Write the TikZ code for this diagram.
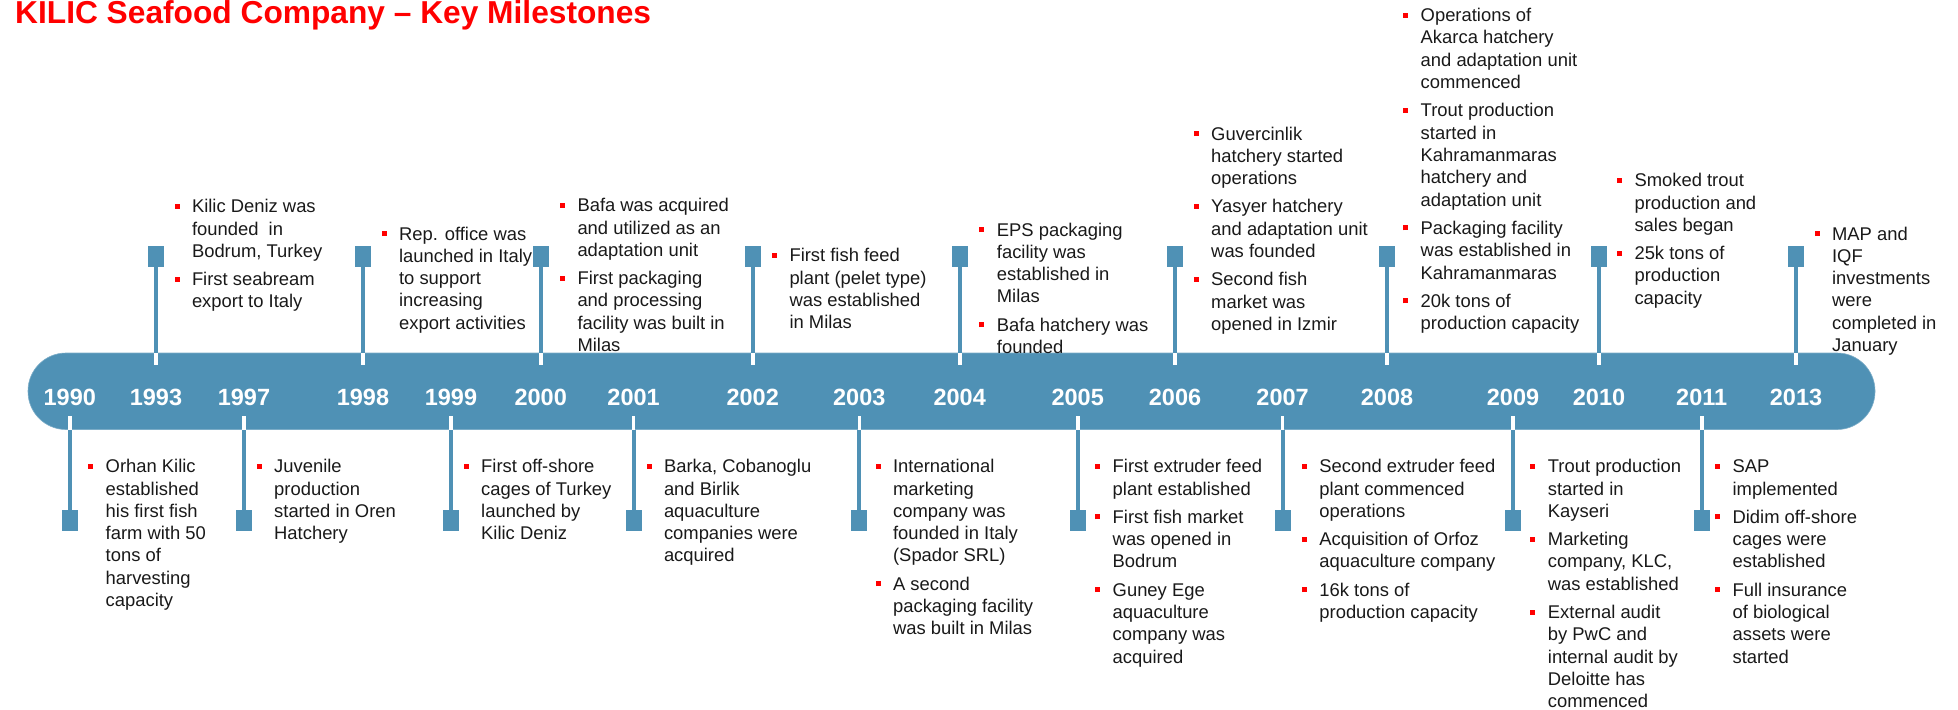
\documentclass[tikz,border=0pt]{standalone}
\usepackage{fontspec}
\setmainfont{Liberation Sans}
\usepackage{xcolor}
\definecolor{bandblue}{RGB}{79,145,181}
\definecolor{bulletred}{RGB}{255,0,0}
\usepackage{tikz}
\usetikzlibrary{calc,positioning}
% bullet square and one bullet block
\newcommand{\bul}{\llap{\textcolor{bulletred}{\rule[4pt]{5pt}{5pt}}\hspace{12.5pt}}}
\newcommand{\evt}[1]{\begin{tabular}[t]{@{}l@{}}#1\end{tabular}}

\begin{document}
\begin{tikzpicture}[x=1pt,y=-1pt,
    band/.style={fill=bandblue,draw=bandblue!75!white,line width=0.6pt,rounded corners=38pt,
      minimum width=1847pt,minimum height=76.5pt,inner sep=0pt,outer sep=0pt},
    marker/.style={fill=bandblue,minimum width=16pt,minimum height=21pt,inner sep=0pt,outer sep=0pt},
    stem/.style={draw=bandblue,line width=4.2pt},
    tick/.style={draw=white,line width=3.6pt},
    year/.style={anchor=base,text=white,font=\fontsize{23.5}{28}\selectfont\bfseries},
    txt/.style={anchor=base west,inner sep=0pt,text=black!90,font=\fontsize{18.4}{22.3}\selectfont},
    title/.style={anchor=base west,inner sep=0pt,text=bulletred,font=\fontsize{31.7}{36}\selectfont\bfseries}]
            % Canvas
            \useasboundingbox (0,0) rectangle (1958,709);
            % Parameters
            \def\uy{256.2}  % upper markers
            \def\ly{520.9}  % lower markers
            \def\yb{405}    % year baseline
            % Title
            \node[title] (title) at (15,23.5) {KILIC Seafood Company – Key Milestones};
            % Time band
            \node[band] (band) at (951.5,391.25) {};
            % Upper markers
            \foreach \px/\yr in {156/1993,363/1998,540.7/2000,752.7/2002,959.7/2004,1175/2006,1387/2008,1599/2010,1796/2013} {
              \node[marker] (m\yr) at (\px,\uy) {};
              \draw[stem] (m\yr.south) -- (m\yr.south |- band.north);
              \draw[tick] (m\yr.south |- band.north) -- ++(0,12);
              \node[year] (y\yr) at (\px,\yb) {\yr};
            }
            % Lower markers
            \foreach \px/\yr in {69.8/1990,244/1997,451/1999,633.6/2001,859.3/2003,1077.7/2005,1282.6/2007,1513/2009,1701.7/2011} {
              \node[marker] (m\yr) at (\px,\ly) {};
              \draw[stem] (m\yr.north) -- (m\yr.north |- band.south);
              \draw[tick] (m\yr.north |- band.south) -- ++(0,-14);
              \node[year] (y\yr) at (\px,\yb) {\yr};
            }
            % Upper milestones
            \node[txt] (t1993) at (191.8,212.7) {\evt{\bul Kilic Deniz was\\ founded~ in\\ Bodrum, Turkey\\[6pt]
              \bul First seabream\\ export to Italy}};
            \node[txt] (t1998) at (398.9,240) {\evt{\bul Rep. office was\\ launched in Italy\\ to support\\ increasing\\ export activities}};
            \node[txt] (t2000) at (577.3,211.7) {\evt{\bul Bafa was acquired\\ and utilized as an\\ adaptation unit\\[6pt]
              \bul First packaging\\ and processing\\ facility was built in\\ Milas}};
            \node[txt] (t2002) at (789.3,261.7) {\evt{\bul First fish feed\\ plant (pelet type)\\ was established\\ in Milas}};
            \node[txt] (t2004) at (996.7,236) {\evt{\bul EPS packaging\\ facility was\\ established in\\ Milas\\[6pt]
              \bul Bafa hatchery was\\ founded}};
            \node[txt] (t2006) at (1211,140) {\evt{\bul Guvercinlik\\ hatchery started\\ operations\\[6pt]
              \bul Yasyer hatchery\\ and adaptation unit\\ was founded\\[6pt]
              \bul Second fish\\ market was\\ opened in Izmir}};
            \node[txt] (t2008) at (1420.5,21.7) {\evt{\bul Operations of\\ Akarca hatchery\\ and adaptation unit\\ commenced\\[6pt]
              \bul Trout production\\ started in\\ Kahramanmaras\\ hatchery and\\ adaptation unit\\[6pt]
              \bul Packaging facility\\ was established in\\ Kahramanmaras\\[6pt]
              \bul 20k tons of\\ production capacity}};
            \node[txt] (t2010) at (1634.3,186.7) {\evt{\bul Smoked trout\\ production and\\ sales began\\[6pt]
              \bul 25k tons of\\ production\\ capacity}};
            \node[txt] (t2013) at (1831.9,240) {\evt{\bul MAP and\\ IQF\\ investments\\ were\\ completed in\\ January}};
            % Lower milestones
            \node[txt] (t1990) at (105.5,472.7) {\evt{\bul Orhan Kilic\\ established\\ his first fish\\ farm with 50\\ tons of\\ harvesting\\ capacity}};
            \node[txt] (t1997) at (274,472.7) {\evt{\bul Juvenile\\ production\\ started in Oren\\ Hatchery}};
            \node[txt] (t1999) at (481,472.7) {\evt{\bul First off-shore\\ cages of Turkey\\ launched by\\ Kilic Deniz}};
            \node[txt] (t2001) at (663.8,472.7) {\evt{\bul Barka, Cobanoglu\\ and Birlik\\ aquaculture\\ companies were\\ acquired}};
            \node[txt] (t2003) at (892.9,472.7) {\evt{\bul International\\ marketing\\ company was\\ founded in Italy\\ (Spador SRL)\\[6pt]
              \bul A second\\ packaging facility\\ was built in Milas}};
            \node[txt] (t2005) at (1112.5,472.7) {\evt{\bul First extruder feed\\ plant established\\[6pt]
              \bul First fish market\\ was opened in\\ Bodrum\\[6pt]
              \bul Guney Ege\\ aquaculture\\ company was\\ acquired}};
            \node[txt] (t2007) at (1319.2,472.7) {\evt{\bul Second extruder feed\\ plant commenced\\ operations\\[6pt]
              \bul Acquisition of Orfoz\\ aquaculture company\\[6pt]
              \bul 16k tons of\\ production capacity}};
            \node[txt] (t2009) at (1547.7,472.7) {\evt{\bul Trout production\\ started in\\ Kayseri\\[6pt]
              \bul Marketing\\ company, KLC,\\ was established\\[6pt]
              \bul External audit\\ by PwC and\\ internal audit by\\ Deloitte has\\ commenced}};
            \node[txt] (t2011) at (1732.4,472.7) {\evt{\bul SAP\\ implemented\\[6pt]
              \bul Didim off-shore\\ cages were\\ established\\[6pt]
              \bul Full insurance\\ of biological\\ assets were\\ started}};
        \end{tikzpicture}
\end{document}
